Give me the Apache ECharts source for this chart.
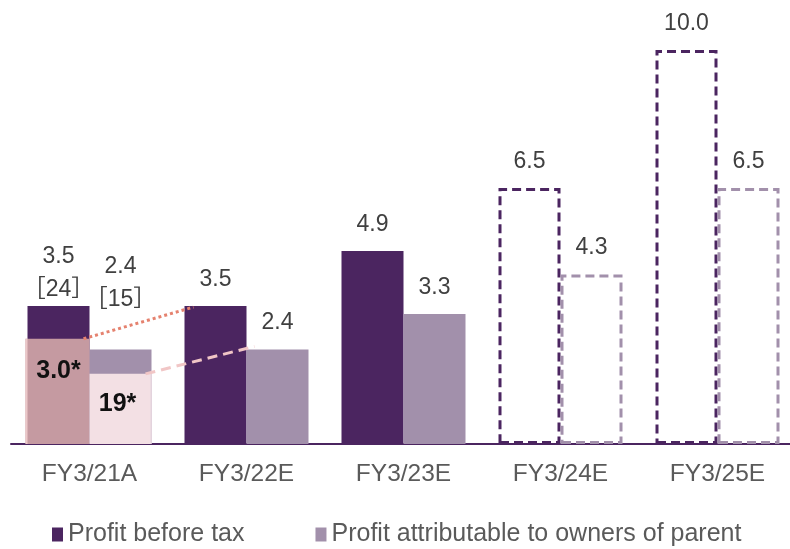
<!DOCTYPE html>
<html>
<head>
<meta charset="utf-8">
<script src="https://cdn.jsdelivr.net/npm/echarts@6/dist/echarts.min.js"></script>
<style>
html,body{margin:0;padding:0;background:#fff;}
#chart{width:790px;height:549px;}
</style>
</head>
<body>
<div id="chart"></div>
<script>
// ---- data ----
const categories = ['FY3/21A', 'FY3/22E', 'FY3/23E', 'FY3/24E', 'FY3/25E'];
const profitBeforeTax = [3.5, 3.5, 4.9, 6.5, 10.0];
const profitToOwners = [2.4, 2.4, 3.3, 4.3, 6.5];
const forecastStart = 3; // from this index bars are dashed outlines
const pbtNotes = ['［24］', '', '', '', ''];
const patNotes = ['［15］', '', '', '', ''];
// overlay boxes on FY3/21A (heights) and their labels
const overlayValues = [2.67, 1.78];
const overlayLabels = ['3.0*', '19*'];

// ---- styles ----
const PBT = '#4b2560';
const PAT = '#a290ab';
const FONT = "'Liberation Sans', Arial, 'Noto Sans CJK JP', sans-serif";
const BAR_W = 62;

function barData(values, notes, color, firstDist) {
  return values.map((v, i) => {
    const item = { value: v };
    if (i >= forecastStart) {
      item.itemStyle = {
        color: 'rgba(255,255,255,0)',
        borderColor: color,
        borderWidth: 3,
        borderType: [9, 5]
      };
    }
    if (notes[i]) {
      item.label = {
        formatter: '{c}\n' + notes[i],
        lineHeight: 33,
        distance: firstDist
      };
    }
    return item;
  });
}

const chart = echarts.init(document.getElementById('chart'), null, { renderer: 'canvas' });

const option = {
  animation: false,
  backgroundColor: '#ffffff',
  grid: { left: 11, width: 785, top: 10.6, bottom: 105, containLabel: false, outerBoundsMode: 'none' },
  xAxis: {
    type: 'category',
    data: categories,
    axisTick: { show: false },
    axisLine: { lineStyle: { color: PBT, width: 2 } },
    axisLabel: { color: '#5a5a5a', fontSize: 24.5, fontFamily: FONT, margin: 18 }
  },
  yAxis: {
    type: 'value',
    min: 0,
    max: 11,
    show: false,
    splitLine: { show: false }
  },
  legend: {
    left: 52,
    top: 522,
    padding: 0,
    itemWidth: 11,
    itemHeight: 14,
    itemGap: 71,
    icon: 'rect',
    textStyle: { color: '#5a5a5a', fontSize: 25, fontFamily: FONT },
    data: ['Profit before tax', 'Profit attributable to owners of parent']
  },
  series: [
    {
      name: 'Profit before tax',
      type: 'bar',
      barWidth: BAR_W,
      barGap: '0%',
      itemStyle: { color: PBT },
      label: {
        show: true, position: 'top', distance: 15,
        color: '#404040', fontSize: 23, fontFamily: FONT,
        formatter: p => p.value.toFixed(1)
      },
      data: barData(profitBeforeTax, pbtNotes, PBT, 0)
    },
    {
      name: 'Profit attributable to owners of parent',
      type: 'bar',
      barWidth: BAR_W,
      barGap: '0%',
      itemStyle: { color: PAT },
      label: {
        show: true, position: 'top', distance: 15,
        color: '#404040', fontSize: 23, fontFamily: FONT,
        formatter: p => p.value.toFixed(1)
      },
      data: barData(profitToOwners, patNotes, PAT, 33)
    },
    {
      name: 'overlay',
      type: 'custom',
      z: 5,
      clip: false,
      data: overlayValues.map((v, s) => [0, v, s]),
      renderItem: function (params, api) {
        const cat = api.value(0);
        const val = api.value(1);
        const s = api.value(2);
        const base = api.coord([cat, 0]);
        const top = api.coord([cat, val]);
        const left = base[0] - BAR_W + s * BAR_W;
        const h = base[1] - top[1];
        const children = [];
        const fill = s === 0 ? '#c59aa1' : '#f3e0e4';
        children.push({
          type: 'rect',
          shape: { x: s === 0 ? left - 2 : left, y: top[1], width: s === 0 ? BAR_W + 2 : BAR_W, height: h },
          style: { fill: fill }
        });
        if (s === 0) {
          children.push({
            type: 'rect',
            shape: { x: left - 2, y: top[1], width: 2, height: h },
            style: { fill: '#ecc8c9' }
          });
        } else {
          children.push({
            type: 'rect',
            shape: { x: left + BAR_W - 1, y: top[1], width: 1, height: h },
            style: { fill: '#e4d4dd' }
          });
        }
        // label
        children.push({
          type: 'text',
          style: {
            text: overlayLabels[s],
            x: left + BAR_W / 2 + (s === 0 ? 0 : -3),
            y: top[1] + (s === 0 ? 32 : 30),
            align: 'center',
            verticalAlign: 'middle',
            fill: '#111111',
            font: 'bold 25px ' + FONT
          }
        });
        // connector line to next year's bar of same series
        const nextVals = s === 0 ? profitBeforeTax : profitToOwners;
        const nextTop = api.coord([cat + 1, nextVals[cat + 1]]);
        const nextLeft = nextTop[0] - BAR_W + s * BAR_W;
        children.push({
          type: 'line',
          shape: {
            x1: left + BAR_W - 6, y1: top[1],
            x2: nextLeft + (s === 0 ? 9 : 8), y2: nextTop[1] + (s === 0 ? 1 : -3)
          },
          style: s === 0
            ? { stroke: '#e5826f', lineWidth: 3, lineDash: [3, 3] }
            : { stroke: '#f1c6c6', lineWidth: 3, lineDash: [10, 6] }
        });
        return { type: 'group', children: children };
      }
    }
  ]
};
chart.setOption(option);
</script>
</body>
</html>
